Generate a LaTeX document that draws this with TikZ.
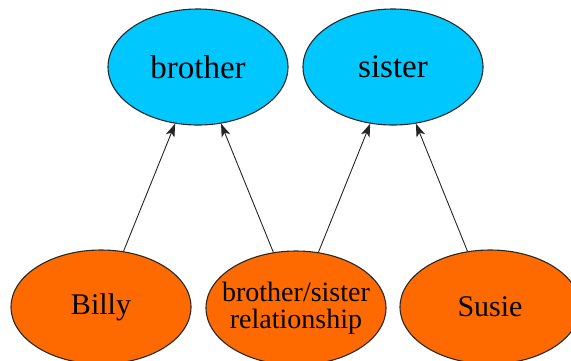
\documentclass[tikz,border=0pt]{standalone}
\usepackage{fontspec}
\setmainfont{Liberation Serif}
\usetikzlibrary{arrows.meta,shapes.geometric}
\definecolor{topfill}{RGB}{0,200,255}
\definecolor{botfill}{RGB}{255,106,0}
\definecolor{rim}{RGB}{40,40,40}
\tikzset{
  oval/.style={ellipse, draw=rim, line width=0.55pt, inner sep=0pt, align=center},
  upper/.style={oval, fill=topfill, minimum width=90pt, minimum height=58pt,
    font=\fontsize{16.5}{18}\selectfont},
  lower/.style={oval, fill=botfill, minimum width=90pt, minimum height=57pt,
    font=\fontsize{15}{16}\selectfont},
  link/.style={draw=black!85, line width=0.45pt, -{Stealth[length=6.5pt,width=4.5pt,inset=1.6pt]}}
}
\begin{document}
\begin{tikzpicture}[x=0.5pt,y=-0.5pt]
  \useasboundingbox (0,0) rectangle (571,360);
  \clip (0,0) rectangle (571,360);
  \node[upper] (brother) at (198,67) {brother};
  \node[upper] (sister) at (393,67) {sister};
  \node[lower] (billy) at (101,307) {Billy};
  \node[lower, inner xsep=-6pt, font=\fontsize{14}{13.5}\selectfont] (rel) at (296,308)
    {brother/sister\\relationship};
  \node[lower] (susie) at (490,307) {Susie};
  \draw[link] (billy) -- (brother);
  \draw[link] (rel) -- (brother);
  \draw[link] (rel) -- (sister);
  \draw[link] (susie) -- (sister);
\end{tikzpicture}
\end{document}
